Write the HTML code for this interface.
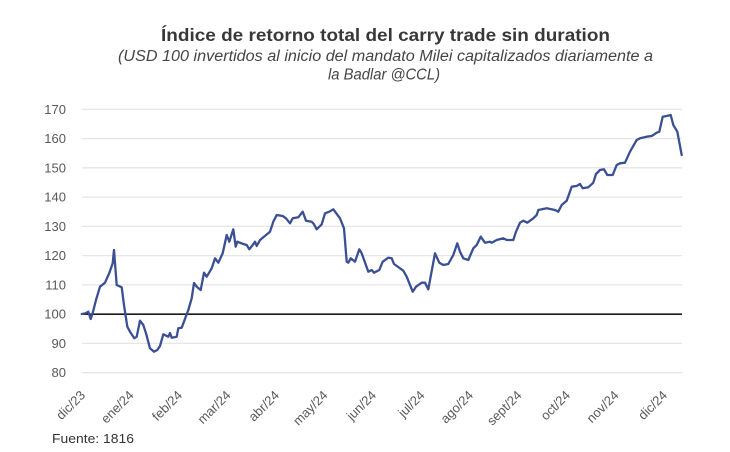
<!DOCTYPE html>
<html><head><meta charset="utf-8"><style>
html,body{margin:0;padding:0;background:#fff;}
svg{display:block;}
</style></head><body>
<svg width="730" height="452" viewBox="0 0 730 452" xmlns="http://www.w3.org/2000/svg" font-family="'Liberation Sans', sans-serif">
<rect width="730" height="452" fill="#fff"/>
<text x="161" y="41" font-size="17.5" font-weight="bold" fill="#383838" textLength="449" lengthAdjust="spacingAndGlyphs">Índice de retorno total del carry trade sin duration</text>
<text x="118" y="61" font-size="15.5" font-style="italic" fill="#454545" textLength="535" lengthAdjust="spacingAndGlyphs">(USD 100 invertidos al inicio del mandato Milei capitalizados diariamente a</text>
<text x="328" y="79.5" font-size="15.5" font-style="italic" fill="#454545" textLength="112" lengthAdjust="spacingAndGlyphs">la Badlar @CCL)</text>
<g stroke="#e6e6e6" stroke-width="1.3">
<line x1="82" x2="682" y1="372.7" y2="372.7"/>
<line x1="82" x2="682" y1="343.4" y2="343.4"/>
<line x1="82" x2="682" y1="284.9" y2="284.9"/>
<line x1="82" x2="682" y1="255.6" y2="255.6"/>
<line x1="82" x2="682" y1="226.4" y2="226.4"/>
<line x1="82" x2="682" y1="197.1" y2="197.1"/>
<line x1="82" x2="682" y1="167.8" y2="167.8"/>
<line x1="82" x2="682" y1="138.6" y2="138.6"/>
<line x1="82" x2="682" y1="109.3" y2="109.3"/>
</g>
<g font-size="13" fill="#595959" text-anchor="end">
<text x="66" y="377.2">80</text>
<text x="66" y="347.9">90</text>
<text x="66" y="318.7">100</text>
<text x="66" y="289.4">110</text>
<text x="66" y="260.1">120</text>
<text x="66" y="230.9">130</text>
<text x="66" y="201.6">140</text>
<text x="66" y="172.3">150</text>
<text x="66" y="143.1">160</text>
<text x="66" y="113.8">170</text>
</g>
<line x1="82" x2="682" y1="314.2" y2="314.2" stroke="#1a1a1a" stroke-width="1.6"/>
<polyline fill="none" stroke="#3b5093" stroke-width="2.3" stroke-linejoin="round" stroke-linecap="round" points="
81.7,314 85,313.5 88.3,311.7 90.7,319 92.7,313 96,300 100,286.7 105,282.7 109.3,273 112.7,263.3 114,250 116.7,285 121.7,287.3 124,305 127.3,326.7 130,331.7 134.3,338.3 136.7,336.7 140,320.7 143.3,325 146,333.3 150,348.3 154,351.7 157.3,350 160,346 163.3,334.3 168.3,336.7 170,333 171.7,337.7 176.7,336.7 178.3,328.3 181.7,327.7 188.3,310 191.7,298.3 194,283 197,287 200.7,290 204,272.7 206.7,276.7 211.7,268.3 215,258.3 218.3,262.7 222.7,253.3 226.7,235 229.3,241.7 233.3,229.3 235.7,246.7 237.3,241.7 243.3,244 246.7,245 249.3,249.3 252.7,245 255,241.7 256.7,246 260,240 270,231.7 273.3,221.7 276.7,215 282.7,216 286,218.3 290,223.3 292.7,218.3 298.3,217.3 302.7,211.7 306,220.7 311.7,221.7 314,224.3 316.7,229.3 321.7,224.3 325,213.3 329.3,211.7 333.3,209.3 340,218.3 344,228.3 346.7,261.7 348.3,262.7 350.7,258.3 355,261.7 359.3,249.3 361.7,253.3 368.3,271.7 371.7,270 374,272.7 379.3,270 382.7,261.7 388.3,257.7 391.7,258.3 394,264 400,268.3 403.3,270.7 406.7,276.7 412.7,291.7 416,286.7 421.7,282.7 425,282.7 428.3,289.3 435,253.3 439.3,262.7 443.3,265 448.3,264 453.3,255 457.3,243.3 460,251.7 463.3,258.3 468.3,260 473.3,248.3 476.7,245 480.7,236.7 485,242.7 490,241.7 491.7,242.7 496.7,240 503.3,238.3 506.7,240 513.3,240 516,231.7 520,222.7 523.3,220.7 527.3,222.7 533.3,218.3 536.7,215 538.3,210 546.7,208.3 555,210 558.3,211.7 561.7,205 566.7,200.7 571.7,186.7 576.7,186 580,184 582.7,188.3 588.3,187.3 593.3,182.7 596,174 600,170 604,169.3 607.3,175 612.7,175 616.7,165 620,163.3 625,162.7 630,151.7 636.7,140 640,138.3 646.7,136.7 651.7,136 656.7,132.7 659.3,131.7 662.7,116.7 666.7,116 670.7,115 673.3,125 677.3,131.7 681.7,155"/>
<g font-size="13" fill="#595959" text-anchor="end">
<text transform="translate(86,396) rotate(-45)">dic/23</text>
<text transform="translate(134.5,396) rotate(-45)">ene/24</text>
<text transform="translate(183,396) rotate(-45)">feb/24</text>
<text transform="translate(231.5,396) rotate(-45)">mar/24</text>
<text transform="translate(280,396) rotate(-45)">abr/24</text>
<text transform="translate(328.5,396) rotate(-45)">may/24</text>
<text transform="translate(377,396) rotate(-45)">jun/24</text>
<text transform="translate(425.5,396) rotate(-45)">jul/24</text>
<text transform="translate(474,396) rotate(-45)">ago/24</text>
<text transform="translate(522.5,396) rotate(-45)">sept/24</text>
<text transform="translate(571,396) rotate(-45)">oct/24</text>
<text transform="translate(619.5,396) rotate(-45)">nov/24</text>
<text transform="translate(668,396) rotate(-45)">dic/24</text>
</g>
<text x="52" y="443" font-size="13" fill="#333" textLength="82" lengthAdjust="spacingAndGlyphs">Fuente: 1816</text>
</svg>
</body></html>
